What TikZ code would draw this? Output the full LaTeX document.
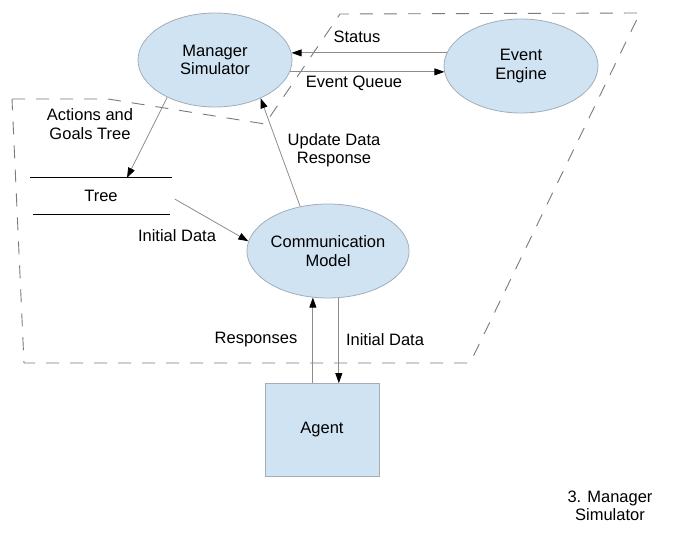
\documentclass[tikz,border=0pt]{standalone}
\usepackage{fontspec}
\setmainfont{Liberation Sans}
\usetikzlibrary{shapes.geometric,arrows.meta,calc}
\definecolor{boxfill}{HTML}{CFE3F2}
\definecolor{boxline}{HTML}{A2ADB8}
\definecolor{wire}{HTML}{8C8C8C}
\definecolor{dashc}{HTML}{7A7A7A}
\tikzset{
  txt/.style={font=\fontsize{16.5}{18.5}\selectfont, align=center, inner sep=0pt},
  proc/.style={ellipse, draw=boxline, fill=boxfill, line width=0.8pt, minimum width=154pt, minimum height=94pt, inner sep=0pt, txt},
  ext/.style={rectangle, draw=boxline, fill=boxfill, line width=0.8pt, minimum width=114pt, minimum height=93pt, inner sep=0pt, txt},
  store/.style={minimum width=141pt, minimum height=36pt, inner sep=0pt, txt},
  storeline/.style={draw=black, line width=1.2pt},
  arr/.style={draw=wire, line width=0.8pt, -{Triangle[length=10pt,width=7pt,color=black]}},
  boundary/.style={draw=dashc, line width=0.9pt, dash pattern=on 13pt off 11pt},
}
\begin{document}
\begin{tikzpicture}[x=1pt,y=-1pt]
\useasboundingbox (0,0) rectangle (691,535);
% dashed boundary
\draw[boundary] (12,99) -- (108,99) -- (265,124) -- (340,14) -- (640,13) -- (470,363) -- (24,363) -- cycle;

% nodes
\node[proc] (man) at (215,60) {Manager\\Simulator};
\node[proc] (eng) at (521,66) {Event\\Engine};
\node[proc] (comm) at (328,251) {Communication\\Model};
\node[ext] (agent) at (322,430) {Agent};
\node[store] (tree) at (101,196) {Tree};
\draw[storeline] (tree.north west) -- (tree.north east);
\draw[storeline] ($(tree.south west)+(3,0)$) -- ($(tree.south east)+(-2,0)$);

% connectors
\draw[arr] (eng.170) -- (man.5 |- eng.170);
\draw[arr] (man.-9) -- (eng.185 |- man.-9);
\draw[arr] (man.-142) -- ($(tree.north)+(26,0)$);
\draw[arr] ($(tree.east)+(3,3)$) -- (comm.173);
\draw[arr] (comm.122) -- (man.-40);
\draw[arr] (agent.north -| comm.252) -- (comm.252);
\draw[arr] (comm.-77) -- (comm.-77 |- agent.north);

% labels
\node[txt] (lstatus) at (357,37) {Status};
\node[txt] (lqueue) at (354,83) {Event Queue};
\node[txt] (lactions) at (90,124) {Actions and\\Goals Tree};
\node[txt] (linit1) at (177,236) {Initial Data};
\node[txt] (lupdate) at (334,150) {Update Data\\Response};
\node[txt] (lresp) at (256,340) {Responses};
\node[txt] (linit2) at (385,340) {Initial Data};
\node[txt] (title) at (610,506) {3. Manager\\Simulator};
\end{tikzpicture}
\end{document}
